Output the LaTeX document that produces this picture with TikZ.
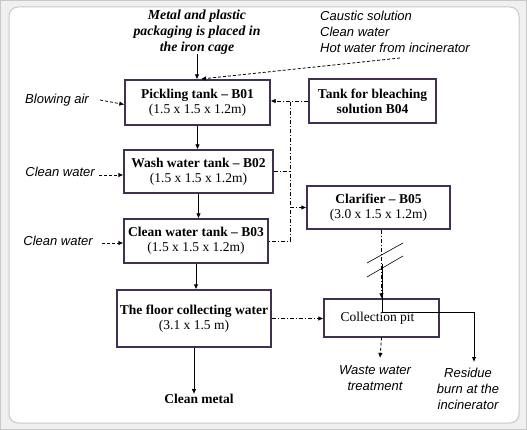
\documentclass[tikz,border=0pt]{standalone}
\usepackage{fontspec}
\setmainfont{Liberation Serif}
\setsansfont{Liberation Sans}
\usetikzlibrary{arrows.meta}
\definecolor{boxc}{RGB}{64,49,82}
\definecolor{framec}{RGB}{200,200,200}
\definecolor{bgc}{RGB}{240,240,240}
\tikzset{
  tank/.style={draw=boxc, line width=1.3pt, fill=white, align=center, inner sep=0pt,
    font=\fontsize{13.5}{15}\selectfont},
  lbl/.style={font=\sffamily\itshape\fontsize{13}{16}\selectfont, inner sep=0pt, align=center},
  tip/.style={-{Latex[length=5pt,width=4.5pt]}},
  arr/.style={tip, line width=0.8pt},
  darr/.style={tip, line width=0.8pt, dash pattern=on 3pt off 2pt},
  dd/.style={line width=0.8pt, dash pattern=on 4pt off 2pt on 1pt off 2pt},
  ddarr/.style={dd, tip},
}
\begin{document}
\begin{tikzpicture}[x=1pt,y=-1pt]
\useasboundingbox (0,0) rectangle (527,430);
\fill[bgc] (0,0) rectangle (527,430);
\draw[framec, line width=0.8pt] (0.5,0.5) rectangle (526.5,429.5);
\draw[framec, line width=1pt, fill=white, rounded corners=9pt] (9,7) rectangle (519,423);

% boxes
\node[tank, minimum width=145pt, minimum height=45pt] (pick) at (197.5,102.5)
  {\textbf{Pickling tank -- B01}\\(1.5 x 1.5 x 1.2m)};
\node[tank, minimum width=127pt, minimum height=44pt] (bleach) at (372.5,101)
  {\textbf{Tank for bleaching}\\\textbf{solution B04}};
\node[tank, minimum width=149pt, minimum height=43pt] (wash) at (198.5,171.5)
  {\textbf{Wash water tank -- B02}\\(1.5 x 1.5 x 1.2m)};
\node[tank, minimum width=144pt, minimum height=44pt] (clean) at (196,241)
  {\textbf{Clean water tank -- B03}\\(1.5 x 1.5 x 1.2m)};
\node[tank, minimum width=143pt, minimum height=43pt] (clar) at (378.5,207.5)
  {\textbf{Clarifier -- B05}\\(3.0 x 1.5 x 1.2m)};
\node[tank, minimum width=154pt, minimum height=57pt] (floor) at (194,318.5)
  {\textbf{The floor collecting water}\\(3.1 x 1.5 m)};
\node[tank, minimum width=115pt, minimum height=38pt] (pit) at (381.5,318)
  {Collection pit\hspace*{8pt}};

% texts
\node[font=\bfseries\itshape\fontsize{13.8}{16}\selectfont, align=center, inner sep=0pt] (title) at (197,32)
  {Metal and plastic\\packaging is placed in\\the iron cage};
\node[lbl, align=left, anchor=west] (caus) at (320,32)
  {Caustic solution\\Clean water\\Hot water from incinerator};
\node[lbl, anchor=east] (blow) at (89,100) {Blowing air};
\node[lbl, anchor=east] (cw1) at (95,172) {Clean water};
\node[lbl, anchor=east] (cw2) at (93,241) {Clean water};
\node[font=\bfseries\fontsize{13.5}{15}\selectfont, inner sep=0pt] (metal) at (199,399) {Clean metal};
\node[lbl] (waste) at (375,378) {Waste water\\treatment};
\node[lbl] (res) at (468,389) {Residue\\burn at the\\incinerator};

% coordinates
\coordinate (causend) at (400,58);
\coordinate (pickin) at (201,79);
\coordinate (bus) at (290,102.5);
\coordinate (slash) at (382,264);
\coordinate (resin) at (474,362);
\coordinate (wastein) at (380,358);

% main flow
\draw[arr] (title.south) -- (title.south |- pick.north);
\draw[darr] (causend) -- (pickin);
\draw[darr] ([xshift=11pt]blow.east) -- ([yshift=-2pt]pick.west);
\draw[darr] ([xshift=4pt,yshift=-3pt]cw1.east) -- ([yshift=-3pt]cw1.east -| wash.west);
\draw[darr] ([xshift=9pt,yshift=-2pt]cw2.east) -- ([yshift=-2pt]cw2.east -| clean.west);
\draw[arr] (pick.south) -- (pick.south |- wash.north);
\draw[arr] (wash.south) -- (wash.south |- clean.north);
\draw[arr] (clean.south) -- (clean.south |- floor.north);
\draw[arr] (floor.south) -- (floor.south |- metal.north);

% dash-dot network
\draw[ddarr] (bleach.west) -- (bleach.west -| pick.east);
\draw[dd] (bus) -- (bus |- clean.east) -- (clean.east);
\draw[dd] (wash.east) -- (wash.east -| bus);
\draw[ddarr] (bus |- clar.west) -- (clar.west);
\draw[ddarr] (floor.east) -- (floor.east -| pit.west);
\draw[ddarr] (pit.north |- clar.south) -- (pit.north);
\draw[line width=0.6pt] (367,263) -- (403,243);
\draw[line width=0.6pt] (367,277) -- (403,256);
\draw[arr] (slash) -- (382,312) -| (resin);
\draw[darr] (pit.south) -- (wastein);
\end{tikzpicture}
\end{document}
